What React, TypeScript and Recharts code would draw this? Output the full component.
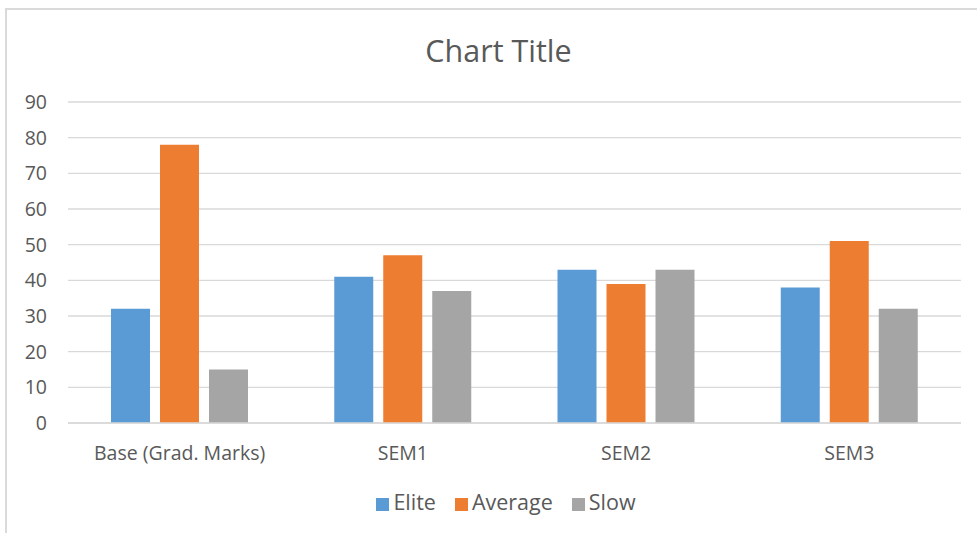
import React from "react";
import { BarChart, Bar, XAxis, YAxis, CartesianGrid, Legend } from "recharts";

const categories = ["Base (Grad. Marks)", "SEM1", "SEM2", "SEM3"];
const elite = [32, 41, 43, 38];
const average = [78, 47, 39, 51];
const slow = [15, 37, 43, 32];
const yTicks = [0, 10, 20, 30, 40, 50, 60, 70, 80, 90];
const seriesOrder = ["Elite", "Average", "Slow"];

const data = categories.map((c, i) => ({
  name: c,
  Elite: elite[i],
  Average: average[i],
  Slow: slow[i],
}));

const FONT = "'Open Sans', Lato, sans-serif";
const TXT = "#595959";

export default function App() {
  return (
    <div
      style={{
        position: "fixed",
        left: 0,
        top: 0,
        width: 977,
        height: 533,
        overflow: "hidden",
        background: "#fff",
        fontFamily: FONT,
      }}
    >
      <div
        style={{
          position: "absolute",
          left: 5,
          top: 8,
          width: 2,
          height: 540,
          background: "#dadada",
        }}
      />
      <div
        style={{
          position: "absolute",
          left: 5,
          top: 8,
          width: 990,
          height: 2,
          background: "#dadada",
        }}
      />
      <div
        style={{
          position: "absolute",
          top: 29,
          left: 0,
          width: 997,
          textAlign: "center",
          fontSize: 30.5,
          color: TXT,
          lineHeight: "42px",
        }}
      >
        Chart Title
      </div>
      <div style={{ position: "absolute", left: 0, top: 0 }}>
        <BarChart
          width={977}
          height={533}
          data={data}
          margin={{ top: 102, right: 16, left: 0, bottom: 4 }}
          barGap={10}
          barSize={39}
        >
          <CartesianGrid vertical={false} stroke="#d9d9d9" strokeWidth={1.3} />
          <XAxis
            dataKey="name"
            height={66}
            tickLine={false}
            axisLine={{ stroke: "#d9d9d9", strokeWidth: 1.3 }}
            tick={{ fill: TXT, fontSize: 19.5, fontFamily: FONT }}
            tickMargin={17}
            interval={0}
          />
          <YAxis
            width={68}
            domain={[0, 90]}
            ticks={yTicks}
            axisLine={false}
            tickLine={false}
            tickMargin={15}
            tick={{ fill: TXT, fontSize: 19.5, fontFamily: FONT }}
          />
          <Legend
            verticalAlign="bottom"
            height={40}
            iconType="square"
            iconSize={13}
            itemSorter={(item: any) => seriesOrder.indexOf(String(item.dataKey ?? item.value))}
            wrapperStyle={{ fontSize: 21.5, fontFamily: FONT, color: TXT, left: 35, bottom: 6 }}
            formatter={(v: string) => (
              <span style={{ color: TXT, paddingRight: 9 }}>{v}</span>
            )}
          />
          <Bar dataKey="Elite" fill="#5B9BD5" isAnimationActive={false} />
          <Bar dataKey="Average" fill="#ED7D31" isAnimationActive={false} />
          <Bar dataKey="Slow" fill="#A5A5A5" isAnimationActive={false} />
        </BarChart>
      </div>
    </div>
  );
}
